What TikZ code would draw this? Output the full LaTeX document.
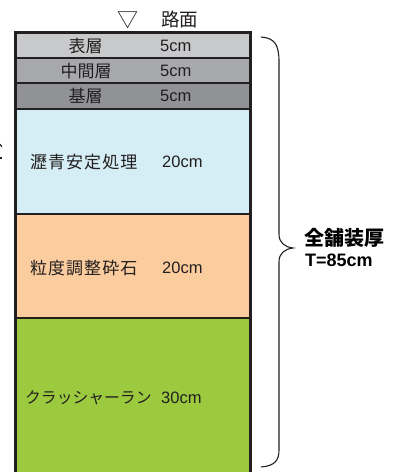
\documentclass[tikz,border=0pt]{standalone}
\usepackage{fontspec}
\setmainfont{Liberation Sans}
\newfontfamily\jp{Noto Sans CJK JP}
\definecolor{edge}{HTML}{231F20}
\definecolor{layA}{HTML}{C8C9CB}
\definecolor{layB}{HTML}{A6A8AB}
\definecolor{layC}{HTML}{909295}
\definecolor{layD}{HTML}{D5EDF4}
\definecolor{layE}{HTML}{FBCC9E}
\definecolor{layF}{HTML}{9BCA3E}
\tikzset{
  layer/.style={fill=#1, draw=none},
  sep/.style={draw=edge, line width=2.2pt},
  outer/.style={draw=edge, line width=2.6pt},
  jlab/.style={font=\jp\fontsize{17}{19}\selectfont, text=edge, inner sep=0pt},
  cmlab/.style={font=\fontsize{16.5}{18}\selectfont, text=edge, inner sep=0pt, anchor=west},
}
\begin{document}
\begin{tikzpicture}[x=1pt,y=-1pt]
\useasboundingbox (0,0) rectangle (399,472);
% layers
\fill[layer=layA] (15,33) rectangle (250.5,58);
\fill[layer=layB] (15,58) rectangle (250.5,83);
\fill[layer=layC] (15,83) rectangle (250.5,109);
\fill[layer=layD] (15,109) rectangle (250.5,214);
\fill[layer=layE] (15,214) rectangle (250.5,318);
\fill[layer=layF] (15,318) rectangle (250.5,472);
% separators
\draw[sep] (15,58) -- (250.5,58);
\draw[sep] (15,83) -- (250.5,83);
\draw[sep] (15,109) -- (250.5,109);
\draw[sep] (15,214) -- (250.5,214);
\draw[sep] (15,318) -- (250.5,318);
% outer
\draw[outer] (15.3,473) -- (15.3,32.5) -- (250.5,32.5) -- (250.5,473);
% top label
\node[font=\jp\fontsize{21}{23}\selectfont, text=edge, inner sep=0pt] (tri) at (127.5,20.5) {▽};
\node[font=\jp\fontsize{18.5}{20}\selectfont, text=edge, inner sep=0pt, anchor=west] (road) at (161,19.5) {路面};
% labels
\node[jlab] (n1) at (85.5,46) {表層};
\node[cmlab] (t1) at (160,46) {5cm};
\node[jlab] (n2) at (86,71) {中間層};
\node[cmlab] (t2) at (160,71) {5cm};
\node[jlab] (n3) at (85.5,96) {基層};
\node[cmlab] (t3) at (160,96) {5cm};
\node[jlab, anchor=west] (n4) at (30,162) {\addfontfeature{LetterSpace=6}瀝青安定処理};
\node[cmlab] (t4) at (162,162) {20cm};
\node[jlab, anchor=west] (n5) at (30,268) {\addfontfeature{LetterSpace=6}粒度調整砕石};
\node[cmlab] (t5) at (162,268) {20cm};
\node[jlab, anchor=west, font=\jp\fontsize{15.8}{17}\selectfont] (n6) at (25,398) {クラッシャーラン};
\node[cmlab] (t6) at (161,398) {30cm};
% brace
\coordinate (bt) at (261,37);
\coordinate (bb) at (261,467);
\draw[edge, line width=1.1pt] (bt) .. controls (275,38) and (279,45) .. (279,62) -- (279,234)
  .. controls (279,243) and (285,247) .. (293,248)
  .. controls (285,249) and (279,253) .. (279,262) -- (279,450)
  .. controls (279,460) and (275,466) .. (bb);
\node[font=\jp\bfseries\fontsize{20}{22}\selectfont, text=black, inner sep=0pt, anchor=west] (tot) at (304,238) {全舗装厚};
\node[font=\bfseries\fontsize{18}{20}\selectfont, text=black, inner sep=0pt, anchor=west] (tt) at (305,260.5) {T=85cm};
% cut-off fragment at left edge
\fill[edge] (0,143.5) -- (2.2,146) -- (2.2,147.5) -- (0,145.5) -- cycle;
\fill[edge] (0,157) rectangle (2,159);
\end{tikzpicture}
\end{document}
